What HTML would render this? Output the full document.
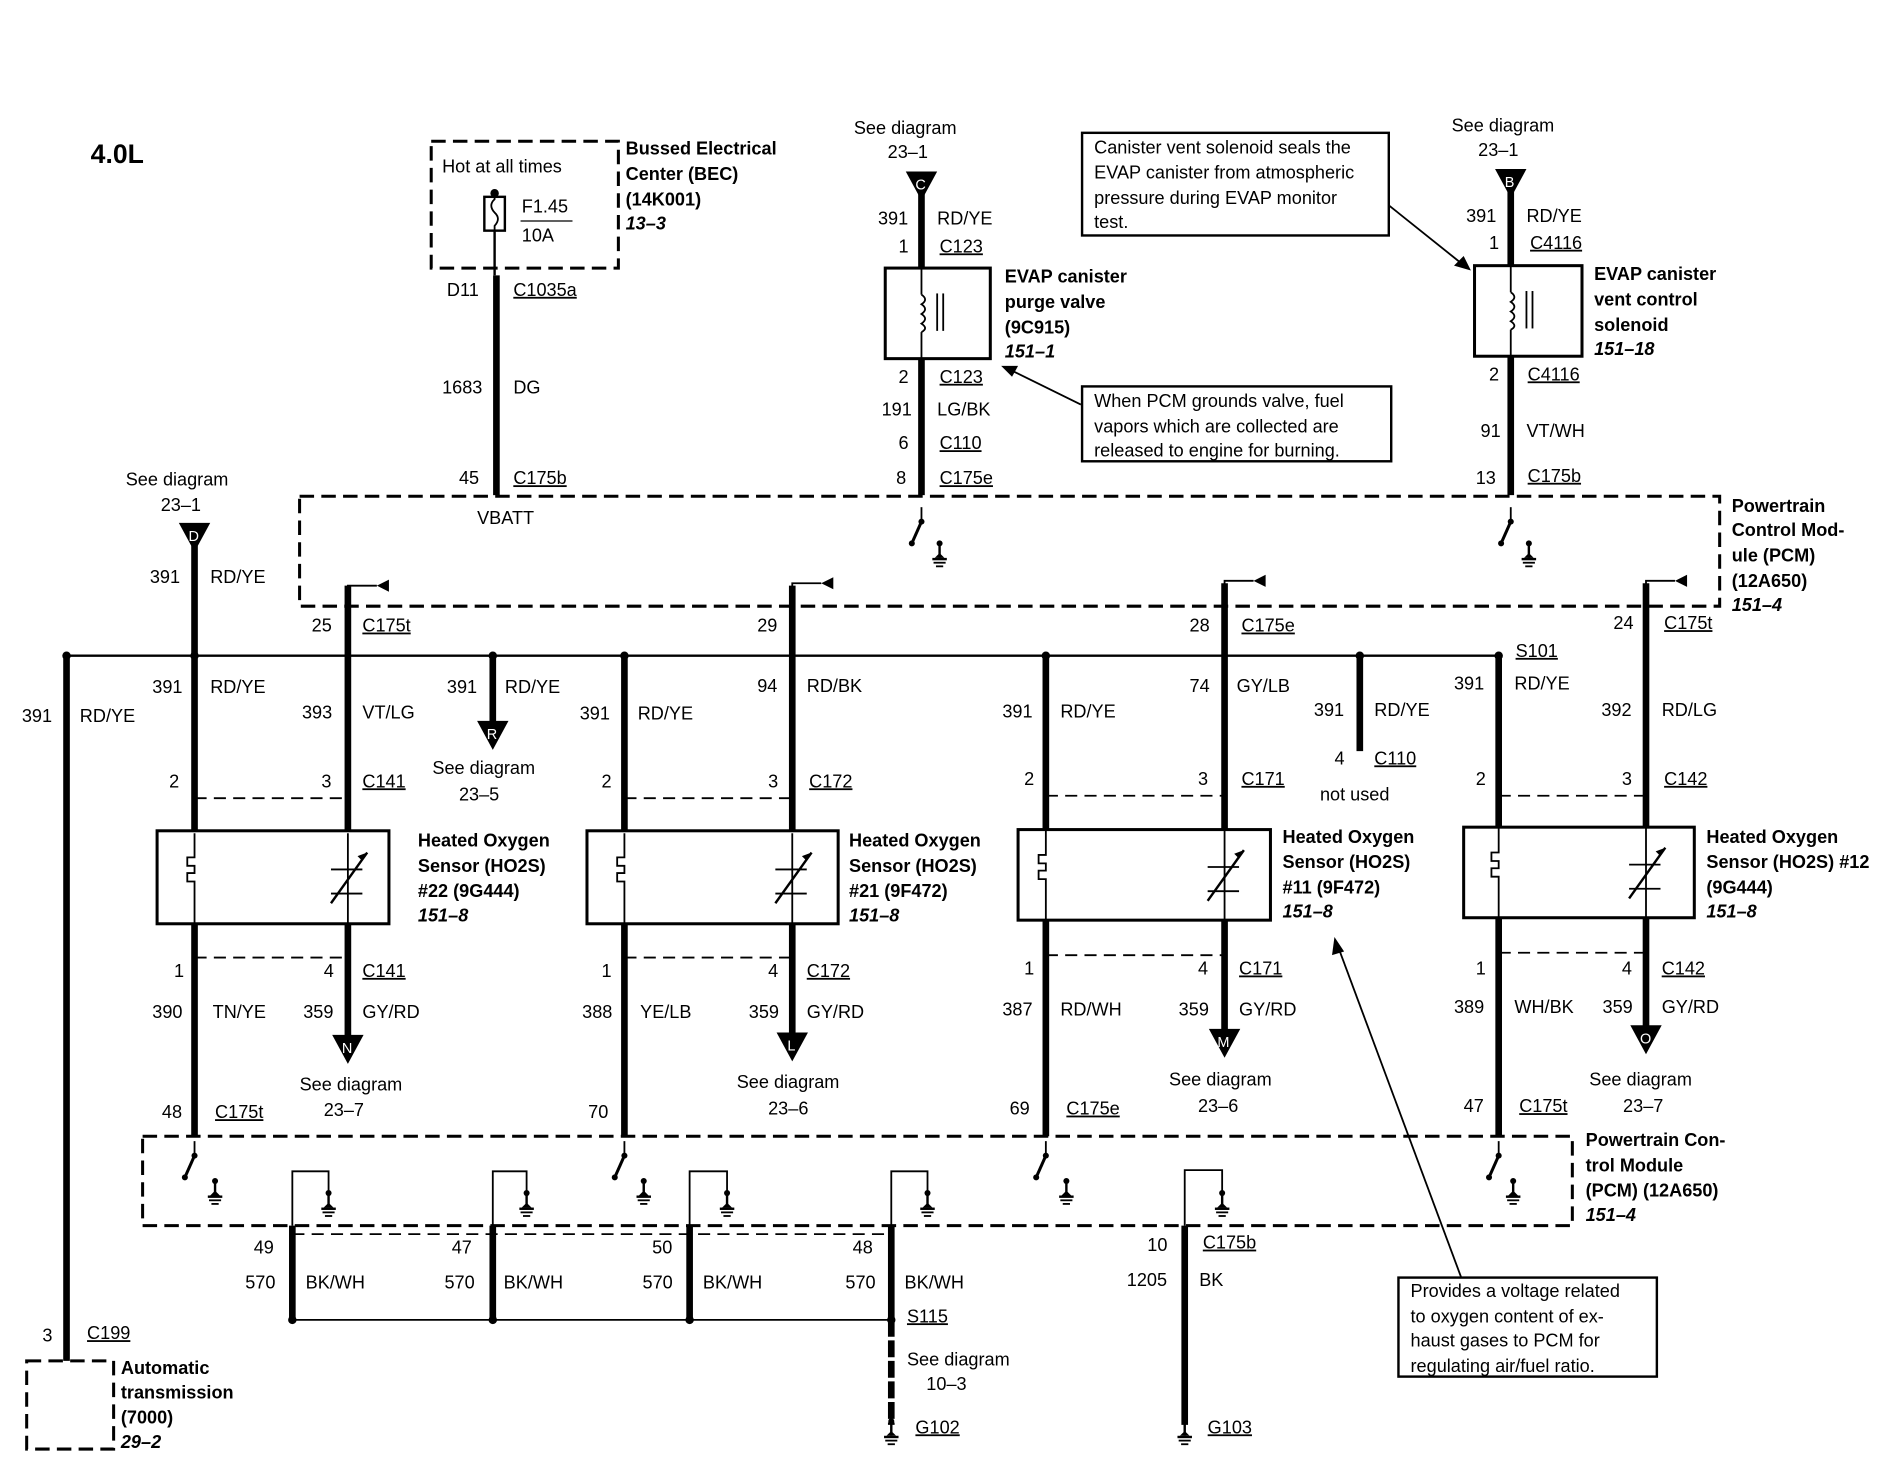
<!DOCTYPE html>
<html><head><meta charset="utf-8"><style>
html,body{margin:0;padding:0;background:#fff;}
svg text{font-family:"Liberation Sans",Arial,sans-serif;font-size:15px;fill:#000;}
.b{font-weight:bold;}
.i{font-weight:bold;font-style:italic;}
.u{text-decoration:underline;}
</style></head><body>
<svg width="1884" height="1472" viewBox="0 0 1560 1219" xmlns="http://www.w3.org/2000/svg">
<defs>
<g id="gnd"><circle cx="0" cy="0" r="2.5"/><line x1="0" y1="0" x2="0" y2="12" stroke="#000" stroke-width="2"/><path d="M-4 12 L0 8 L4 12 Z"/><line x1="-6" y1="13" x2="6" y2="13" stroke="#000" stroke-width="2"/><line x1="-5" y1="16" x2="5" y2="16" stroke="#000" stroke-width="1.5"/><line x1="-3" y1="19" x2="3" y2="19" stroke="#000" stroke-width="1.5"/></g>
<g id="sw"><line x1="0" y1="0" x2="0" y2="10" stroke="#000" stroke-width="1.5"/><circle cx="0" cy="12" r="2.5"/><line x1="0" y1="12" x2="-8" y2="30" stroke="#000" stroke-width="2.5"/><circle cx="-8" cy="30" r="2.5"/></g>
<g id="tri"><path d="M-13 0 L13 0 L0 24 Z"/></g>
<g id="dot"><circle cx="0" cy="0" r="3.5"/></g>
<g id="sens" fill="none" stroke="#000" stroke-width="1.5"><path d="M0 0 V20 H-6 V27 H0 V33 H-6 V40 H0 V75"/></g>
<g id="therm" fill="none" stroke="#000" stroke-width="1.5">
<line x1="0" y1="0" x2="0" y2="75"/>
<line x1="-14" y1="30" x2="12" y2="30"/><line x1="-14" y1="50" x2="12" y2="50"/>
<line x1="-14" y1="58" x2="16" y2="16" stroke-width="2"/>
<path d="M16 16 l-8 3 l4 4 z" fill="#000" stroke="none"/>
</g>
</defs>

<g fill="none" stroke="#000">
<rect x="357" y="117" width="155" height="105" stroke-width="2.5" stroke-dasharray="12,6"/>
<rect x="401" y="163" width="17" height="28" stroke-width="2"/>
<path d="M409.5 158 V165 Q404 170 409.5 176 Q415 181 409.5 187 V191" stroke-width="1.5"/>
<line x1="431" y1="183" x2="474" y2="183" stroke-width="1"/>
<line x1="409.5" y1="191" x2="409.5" y2="228" stroke-width="2"/>
<line x1="411" y1="228" x2="411" y2="410" stroke-width="5.5"/>

<rect x="248" y="411" width="1176" height="91" stroke-width="2.5" stroke-dasharray="12,6"/>
<rect x="118" y="941" width="1184" height="74" stroke-width="2.5" stroke-dasharray="12,6"/>

<line x1="763" y1="160" x2="763" y2="222" stroke-width="5.5"/>
<line x1="763" y1="297" x2="763" y2="410" stroke-width="5.5"/>
<rect x="733" y="222" width="87" height="75" stroke-width="2.5"/>
<line x1="763" y1="222" x2="763" y2="244" stroke-width="1.5"/>
<line x1="763" y1="275" x2="763" y2="297" stroke-width="1.5"/>
<path d="M763 244 q6 4 0 8 q6 4 0 8 q6 4 0 8 q6 4 0 7" stroke-width="1.5"/>
<line x1="776" y1="243" x2="776" y2="274" stroke-width="1.5"/>
<line x1="781" y1="243" x2="781" y2="274" stroke-width="1.5"/>

<line x1="1251" y1="158" x2="1251" y2="220" stroke-width="5.5"/>
<line x1="1251" y1="295" x2="1251" y2="410" stroke-width="5.5"/>
<rect x="1221" y="220" width="89" height="75" stroke-width="2.5"/>
<line x1="1251" y1="220" x2="1251" y2="242" stroke-width="1.5"/>
<line x1="1251" y1="273" x2="1251" y2="295" stroke-width="1.5"/>
<path d="M1251 242 q6 4 0 8 q6 4 0 8 q6 4 0 8 q6 4 0 7" stroke-width="1.5"/>
<line x1="1264" y1="241" x2="1264" y2="272" stroke-width="1.5"/>
<line x1="1269" y1="241" x2="1269" y2="272" stroke-width="1.5"/>

<rect x="896" y="110" width="254" height="85" stroke-width="2"/>
<rect x="896" y="320" width="256" height="62" stroke-width="2"/>
<rect x="1158" y="1058" width="214" height="82" stroke-width="2"/>
<line x1="1150" y1="170" x2="1210" y2="218" stroke-width="1.5"/>
<line x1="895" y1="335" x2="836" y2="306" stroke-width="1.5"/>
<line x1="1210" y1="1058" x2="1108" y2="784" stroke-width="1.5"/>

<line x1="55" y1="543" x2="1241" y2="543" stroke-width="2"/>
<line x1="55" y1="543" x2="55" y2="1127" stroke-width="5.5"/>
<rect x="22" y="1127" width="72" height="73" stroke-width="2.5" stroke-dasharray="12,6"/>

<line x1="161" y1="452" x2="161" y2="688" stroke-width="5.5"/>
<line x1="408" y1="543" x2="408" y2="600" stroke-width="5.5"/>
<line x1="1126" y1="543" x2="1126" y2="622" stroke-width="5.5"/>

<line x1="288" y1="485" x2="288" y2="688" stroke-width="5.5"/>
<line x1="161" y1="765" x2="161" y2="941" stroke-width="5.5"/>
<line x1="288" y1="765" x2="288" y2="860" stroke-width="5.5"/>
<line x1="517" y1="543" x2="517" y2="688" stroke-width="5.5"/>
<line x1="656" y1="485" x2="656" y2="688" stroke-width="5.5"/>
<line x1="517" y1="765" x2="517" y2="941" stroke-width="5.5"/>
<line x1="656" y1="765" x2="656" y2="858" stroke-width="5.5"/>
<line x1="866" y1="543" x2="866" y2="687" stroke-width="5.5"/>
<line x1="1014" y1="483" x2="1014" y2="687" stroke-width="5.5"/>
<line x1="866" y1="762" x2="866" y2="941" stroke-width="5.5"/>
<line x1="1014" y1="762" x2="1014" y2="855" stroke-width="5.5"/>
<line x1="1241" y1="543" x2="1241" y2="685" stroke-width="5.5"/>
<line x1="1363" y1="483" x2="1363" y2="685" stroke-width="5.5"/>
<line x1="1241" y1="760" x2="1241" y2="941" stroke-width="5.5"/>
<line x1="1363" y1="760" x2="1363" y2="852" stroke-width="5.5"/>
<path d="M288 500 V485 H312" stroke-width="1.5"/>
<path d="M656 500 V483 H680" stroke-width="1.5"/>
<path d="M1014 500 V481 H1038" stroke-width="1.5"/>
<path d="M1363 500 V481 H1387" stroke-width="1.5"/>

<rect x="130" y="688" width="192" height="77" stroke-width="2.5"/>
<rect x="486" y="688" width="208" height="77" stroke-width="2.5"/>
<rect x="843" y="687" width="209" height="75" stroke-width="2.5"/>
<rect x="1212" y="685" width="191" height="75" stroke-width="2.5"/>

<g stroke-width="1.5" stroke-dasharray="10,6">
<line x1="161" y1="661" x2="288" y2="661"/><line x1="161" y1="793" x2="288" y2="793"/>
<line x1="517" y1="661" x2="656" y2="661"/><line x1="517" y1="793" x2="656" y2="793"/>
<line x1="866" y1="659" x2="1014" y2="659"/><line x1="866" y1="791" x2="1014" y2="791"/>
<line x1="1241" y1="659" x2="1363" y2="659"/><line x1="1241" y1="789" x2="1363" y2="789"/>
<line x1="242" y1="1022" x2="738" y2="1022"/>
</g>

<line x1="242" y1="1015" x2="242" y2="1093" stroke-width="5.5"/>
<line x1="408" y1="1015" x2="408" y2="1093" stroke-width="5.5"/>
<line x1="571" y1="1015" x2="571" y2="1093" stroke-width="5.5"/>
<line x1="738" y1="1015" x2="738" y2="1093" stroke-width="5.5"/>
<line x1="738" y1="1093" x2="738" y2="1180" stroke-width="5.5" stroke-dasharray="14,3"/>
<line x1="981" y1="1015" x2="981" y2="1180" stroke-width="5.5"/>
<line x1="242" y1="1093" x2="738" y2="1093" stroke-width="1.5"/>
<g stroke-width="1.5">
<path d="M242 1015 V970 H272 V990"/>
<path d="M408 1015 V970 H436 V990"/>
<path d="M571 1015 V970 H602 V990"/>
<path d="M738 1015 V970 H768 V990"/>
<path d="M981 1015 V969 H1012 V990"/>
</g>
</g>

<use href="#sens" x="161" y="690"/>
<use href="#sens" x="517" y="690"/>
<use href="#sens" x="866" y="688"/>
<use href="#sens" x="1241" y="686"/>
<use href="#therm" x="288" y="690"/>
<use href="#therm" x="656" y="690"/>
<use href="#therm" x="1014" y="688"/>
<use href="#therm" x="1363" y="686"/>

<path d="M312 480 L312 490 L322 485 Z" transform="rotate(180 317 485)"/>
<path d="M680 478 L680 488 L690 483 Z" transform="rotate(180 685 483)"/>
<path d="M1038 476 L1038 486 L1048 481 Z" transform="rotate(180 1043 481)"/>
<path d="M1387 476 L1387 486 L1397 481 Z" transform="rotate(180 1392 481)"/>
<path d="M1218 224 L1204 220 L1212 212 Z"/>
<path d="M829 303 L843 303 L838 312 Z"/>
<path d="M1105 776 L1103 791 L1113 788 Z"/>

<use href="#tri" x="763" y="142"/><text x="758" y="157" style="fill:#fff;font-size:12px">C</text>
<use href="#tri" x="1251" y="140"/><text x="1246" y="155" style="fill:#fff;font-size:12px">B</text>
<use href="#tri" x="161" y="433"/><text x="156" y="448" style="fill:#fff;font-size:12px">D</text>
<use href="#tri" x="408" y="597"/><text x="403" y="612" style="fill:#fff;font-size:12px">R</text>
<use href="#tri" x="288" y="857"/><text x="283" y="872" style="fill:#fff;font-size:12px">N</text>
<use href="#tri" x="656" y="855"/><text x="652" y="870" style="fill:#fff;font-size:12px">L</text>
<use href="#tri" x="1014" y="852"/><text x="1008" y="867" style="fill:#fff;font-size:12px">M</text>
<use href="#tri" x="1363" y="849"/><text x="1358" y="864" style="fill:#fff;font-size:12px">O</text>

<use href="#dot" x="55" y="543"/><use href="#dot" x="161" y="543"/><use href="#dot" x="408" y="543"/>
<use href="#dot" x="517" y="543"/><use href="#dot" x="866" y="543"/><use href="#dot" x="1126" y="543"/>
<use href="#dot" x="1241" y="543"/>
<use href="#dot" x="242" y="1093"/><use href="#dot" x="408" y="1093"/><use href="#dot" x="571" y="1093"/><use href="#dot" x="738" y="1093"/>
<circle cx="409.5" cy="160" r="3.5"/>

<use href="#sw" x="763" y="420"/><use href="#gnd" x="778" y="450"/>
<use href="#sw" x="1251" y="420"/><use href="#gnd" x="1266" y="450"/>
<use href="#sw" x="161" y="945"/><use href="#gnd" x="178" y="978"/>
<use href="#sw" x="517" y="945"/><use href="#gnd" x="533" y="978"/>
<use href="#sw" x="866" y="945"/><use href="#gnd" x="883" y="978"/>
<use href="#sw" x="1241" y="945"/><use href="#gnd" x="1253" y="978"/>
<use href="#gnd" x="272" y="988"/><use href="#gnd" x="436" y="988"/><use href="#gnd" x="602" y="988"/><use href="#gnd" x="768" y="988"/><use href="#gnd" x="1012" y="988"/>
<use href="#gnd" x="738" y="1177"/><use href="#gnd" x="981" y="1177"/>

<text x="75" y="135" class="b" style="font-size:22px">4.0L</text>
<text x="366" y="143">Hot at all times</text>
<text x="432" y="176">F1.45</text><text x="432" y="200">10A</text>
<text x="518" y="128" class="b">Bussed Electrical</text>
<text x="518" y="149" class="b">Center (BEC)</text>
<text x="518" y="170" class="b">(14K001)</text>
<text x="518" y="190" class="i">13–3</text>
<text x="370" y="245">D11</text><text x="425" y="245" class="u">C1035a</text>
<text x="366" y="326">1683</text><text x="425" y="326">DG</text>
<text x="380" y="401">45</text><text x="425" y="401" class="u">C175b</text>
<text x="395" y="434">VBATT</text>

<text x="707" y="111">See diagram</text><text x="735" y="131">23–1</text>
<text x="727" y="186">391</text><text x="776" y="186">RD/YE</text>
<text x="744" y="209">1</text><text x="778" y="209" class="u">C123</text>
<text x="832" y="234" class="b">EVAP canister</text>
<text x="832" y="255" class="b">purge valve</text>
<text x="832" y="276" class="b">(9C915)</text>
<text x="832" y="296" class="i">151–1</text>
<text x="744" y="317">2</text><text x="778" y="317" class="u">C123</text>
<text x="730" y="344">191</text><text x="776" y="344">LG/BK</text>
<text x="744" y="372">6</text><text x="778" y="372" class="u">C110</text>
<text x="742" y="401">8</text><text x="778" y="401" class="u">C175e</text>

<text x="906" y="127">Canister vent solenoid seals the</text>
<text x="906" y="148">EVAP canister from atmospheric</text>
<text x="906" y="169">pressure during EVAP monitor</text>
<text x="906" y="189">test.</text>
<text x="906" y="337">When PCM grounds valve, fuel</text>
<text x="906" y="358">vapors which are collected are</text>
<text x="906" y="378">released to engine for burning.</text>

<text x="1202" y="109">See diagram</text><text x="1224" y="129">23–1</text>
<text x="1214" y="184">391</text><text x="1264" y="184">RD/YE</text>
<text x="1233" y="206">1</text><text x="1267" y="206" class="u">C4116</text>
<text x="1320" y="232" class="b">EVAP canister</text>
<text x="1320" y="253" class="b">vent control</text>
<text x="1320" y="274" class="b">solenoid</text>
<text x="1320" y="294" class="i">151–18</text>
<text x="1233" y="315">2</text><text x="1265" y="315" class="u">C4116</text>
<text x="1226" y="362">91</text><text x="1264" y="362">VT/WH</text>
<text x="1222" y="401">13</text><text x="1265" y="399" class="u">C175b</text>

<text x="1434" y="424" class="b">Powertrain</text>
<text x="1434" y="444" class="b">Control Mod-</text>
<text x="1434" y="465" class="b">ule (PCM)</text>
<text x="1434" y="486" class="b">(12A650)</text>
<text x="1434" y="506" class="i">151–4</text>

<text x="104" y="402">See diagram</text><text x="133" y="423">23–1</text>
<text x="124" y="483">391</text><text x="174" y="483">RD/YE</text>
<text x="18" y="598">391</text><text x="66" y="598">RD/YE</text>
<text x="35" y="1111">3</text><text x="72" y="1109" class="u">C199</text>
<text x="100" y="1138" class="b">Automatic</text>
<text x="100" y="1158" class="b">transmission</text>
<text x="100" y="1179" class="b">(7000)</text>
<text x="100" y="1199" class="i">29–2</text>

<text x="258" y="523">25</text><text x="300" y="523" class="u">C175t</text>
<text x="126" y="574">391</text><text x="174" y="574">RD/YE</text>
<text x="250" y="595">393</text><text x="300" y="595">VT/LG</text>
<text x="140" y="652">2</text><text x="266" y="652">3</text><text x="300" y="652" class="u">C141</text>
<text x="346" y="701" class="b">Heated Oxygen</text>
<text x="346" y="722" class="b">Sensor (HO2S)</text>
<text x="346" y="743" class="b">#22 (9G444)</text>
<text x="346" y="763" class="i">151–8</text>
<text x="144" y="809">1</text><text x="268" y="809">4</text><text x="300" y="809" class="u">C141</text>
<text x="126" y="843">390</text><text x="176" y="843">TN/YE</text>
<text x="251" y="843">359</text><text x="300" y="843">GY/RD</text>
<text x="248" y="903">See diagram</text><text x="268" y="924">23–7</text>
<text x="134" y="926">48</text><text x="178" y="926" class="u">C175t</text>
<text x="370" y="574">391</text><text x="418" y="574">RD/YE</text>
<text x="358" y="641">See diagram</text><text x="380" y="663">23–5</text>

<text x="627" y="523">29</text>
<text x="480" y="596">391</text><text x="528" y="596">RD/YE</text>
<text x="627" y="573">94</text><text x="668" y="573">RD/BK</text>
<text x="498" y="652">2</text><text x="636" y="652">3</text><text x="670" y="652" class="u">C172</text>
<text x="703" y="701" class="b">Heated Oxygen</text>
<text x="703" y="722" class="b">Sensor (HO2S)</text>
<text x="703" y="743" class="b">#21 (9F472)</text>
<text x="703" y="763" class="i">151–8</text>
<text x="498" y="809">1</text><text x="636" y="809">4</text><text x="668" y="809" class="u">C172</text>
<text x="482" y="843">388</text><text x="530" y="843">YE/LB</text>
<text x="620" y="843">359</text><text x="668" y="843">GY/RD</text>
<text x="610" y="901">See diagram</text><text x="636" y="923">23–6</text>
<text x="487" y="926">70</text>

<text x="985" y="523">28</text><text x="1028" y="523" class="u">C175e</text>
<text x="830" y="594">391</text><text x="878" y="594">RD/YE</text>
<text x="985" y="573">74</text><text x="1024" y="573">GY/LB</text>
<text x="848" y="650">2</text><text x="992" y="650">3</text><text x="1028" y="650" class="u">C171</text>
<text x="1062" y="698" class="b">Heated Oxygen</text>
<text x="1062" y="719" class="b">Sensor (HO2S)</text>
<text x="1062" y="740" class="b">#11 (9F472)</text>
<text x="1062" y="760" class="i">151–8</text>
<text x="848" y="807">1</text><text x="992" y="807">4</text><text x="1026" y="807" class="u">C171</text>
<text x="830" y="841">387</text><text x="878" y="841">RD/WH</text>
<text x="976" y="841">359</text><text x="1026" y="841">GY/RD</text>
<text x="968" y="899">See diagram</text><text x="992" y="921">23–6</text>
<text x="836" y="923">69</text><text x="883" y="923" class="u">C175e</text>

<text x="1088" y="593">391</text><text x="1138" y="593">RD/YE</text>
<text x="1105" y="633">4</text><text x="1138" y="633" class="u">C110</text>
<text x="1093" y="663">not used</text>

<text x="1255" y="544" class="u">S101</text>
<text x="1336" y="521">24</text><text x="1378" y="521" class="u">C175t</text>
<text x="1204" y="571">391</text><text x="1254" y="571">RD/YE</text>
<text x="1326" y="593">392</text><text x="1376" y="593">RD/LG</text>
<text x="1222" y="650">2</text><text x="1343" y="650">3</text><text x="1378" y="650" class="u">C142</text>
<text x="1413" y="698" class="b">Heated Oxygen</text>
<text x="1413" y="719" class="b">Sensor (HO2S) #12</text>
<text x="1413" y="740" class="b">(9G444)</text>
<text x="1413" y="760" class="i">151–8</text>
<text x="1222" y="807">1</text><text x="1343" y="807">4</text><text x="1376" y="807" class="u">C142</text>
<text x="1204" y="839">389</text><text x="1254" y="839">WH/BK</text>
<text x="1327" y="839">359</text><text x="1376" y="839">GY/RD</text>
<text x="1316" y="899">See diagram</text><text x="1344" y="921">23–7</text>
<text x="1212" y="921">47</text><text x="1258" y="921" class="u">C175t</text>

<text x="1313" y="949" class="b">Powertrain Con-</text>
<text x="1313" y="970" class="b">trol Module</text>
<text x="1313" y="991" class="b">(PCM) (12A650)</text>
<text x="1313" y="1011" class="i">151–4</text>

<text x="210" y="1038">49</text><text x="203" y="1067">570</text><text x="253" y="1067">BK/WH</text>
<text x="374" y="1038">47</text><text x="368" y="1067">570</text><text x="417" y="1067">BK/WH</text>
<text x="540" y="1038">50</text><text x="532" y="1067">570</text><text x="582" y="1067">BK/WH</text>
<text x="706" y="1038">48</text><text x="700" y="1067">570</text><text x="749" y="1067">BK/WH</text>
<text x="751" y="1095" class="u">S115</text>
<text x="950" y="1036">10</text><text x="996" y="1034" class="u">C175b</text>
<text x="933" y="1065">1205</text><text x="993" y="1065">BK</text>
<text x="751" y="1131">See diagram</text><text x="767" y="1151">10–3</text>
<text x="758" y="1187" class="u">G102</text><text x="1000" y="1187" class="u">G103</text>

<text x="1168" y="1074">Provides a voltage related</text>
<text x="1168" y="1095">to oxygen content of ex-</text>
<text x="1168" y="1115">haust gases to PCM for</text>
<text x="1168" y="1136">regulating air/fuel ratio.</text>
</svg>
</body></html>
